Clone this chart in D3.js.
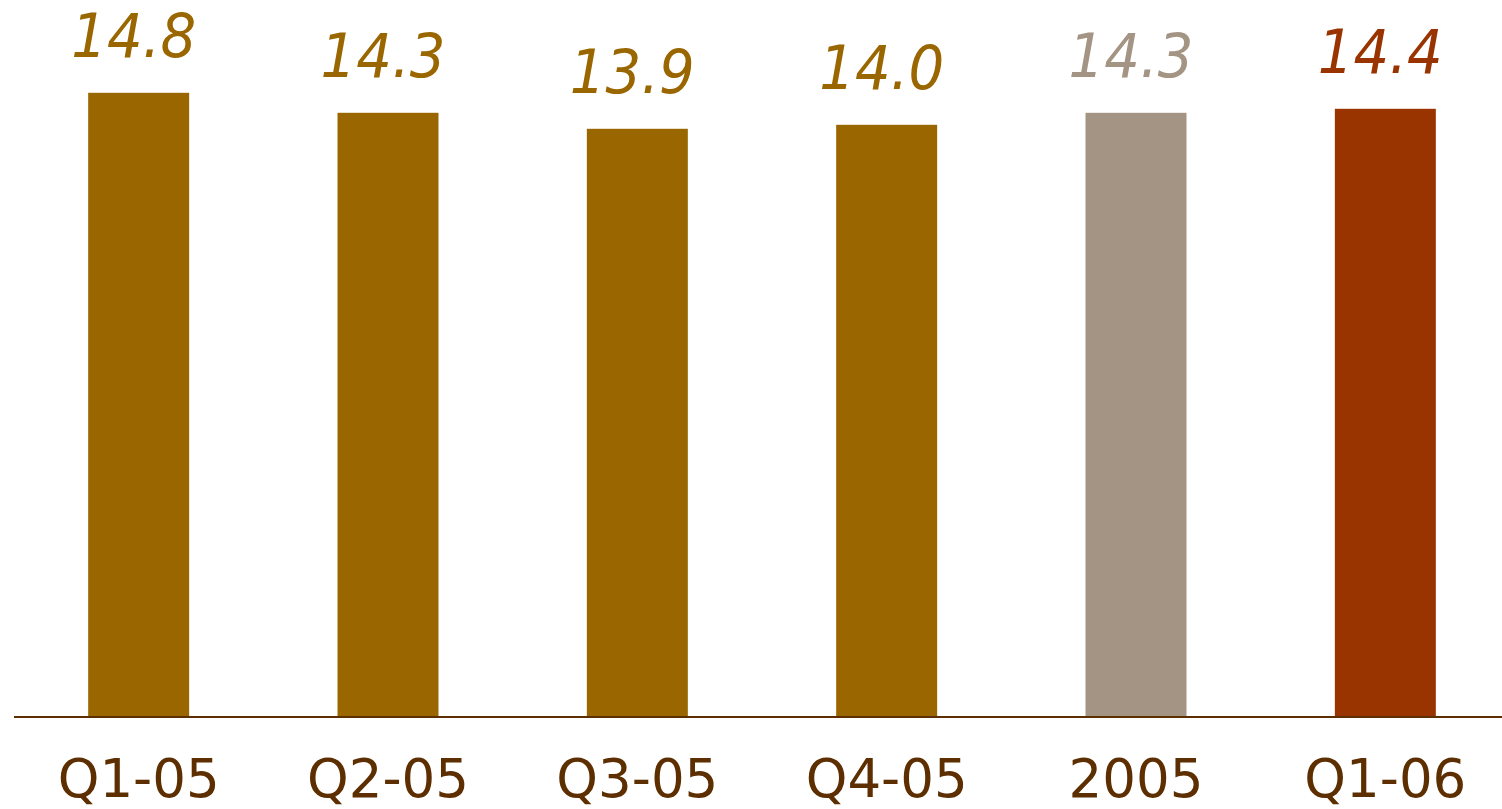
<!DOCTYPE html>
<html>
<head>
<meta charset="utf-8">
<script src="https://cdn.jsdelivr.net/npm/d3@7"></script>
<style>
  html, body { margin: 0; padding: 0; background: #fff; overflow: hidden; }
  svg { display: block; }
</style>
</head>
<body>
<script>
// data
const categories = ["Q1-05", "Q2-05", "Q3-05", "Q4-05", "2005", "Q1-06"];
const values = [14.8, 14.3, 13.9, 14.0, 14.3, 14.4];
const barColors = ["#996600", "#996600", "#996600", "#996600", "#A39483", "#993300"];

// sizes
const width = 1502;
const height = 809;
const baseline = 716;

const data = categories.map((c, i) => ({ cat: c, value: values[i], color: barColors[i] }));

// scales
const xScale = d3.scaleBand(categories, [14, 1510])
  .paddingInner(0.595)
  .paddingOuter(0.2975);

const yScale = d3.scaleLinear([-0.78, 15], [baseline, baseline - 15.78 * 40]);

const svg = d3.select("body")
  .append("svg")
  .attr("width", width)
  .attr("height", height);

// bars
svg.selectAll("rect.bar")
  .data(data)
  .enter()
  .append("rect")
  .attr("class", "bar")
  .attr("x", d => xScale(d.cat))
  .attr("y", d => yScale(d.value))
  .attr("width", xScale.bandwidth())
  .attr("height", d => baseline - yScale(d.value))
  .attr("fill", d => d.color);

// value labels (tall italic, slightly condensed)
svg.selectAll("text.val")
  .data(data)
  .enter()
  .append("text")
  .attr("class", "val")
  .attr("x", d => xScale(d.cat) + xScale.bandwidth() / 2 - 5)
  .attr("y", d => yScale(d.value) - 36)
  .attr("text-anchor", "middle")
  .attr("font-family", "DejaVu Sans, Verdana, sans-serif")
  .attr("font-style", "italic")
  .attr("font-size", 60)
  .attr("textLength", 125)
  .attr("lengthAdjust", "spacingAndGlyphs")
  .attr("fill", d => d.color)
  .text(d => d.value.toFixed(1));

// x axis
const xAxis = d3.axisBottom(xScale).tickSize(0).tickPadding(0);
const gx = svg.append("g")
  .attr("transform", `translate(0, ${baseline + 1})`)
  .call(xAxis);

gx.select(".domain")
  .attr("d", "M14,0H1502")
  .attr("stroke", "#5C2E00")
  .attr("stroke-width", 2);

gx.selectAll(".tick text")
  .attr("y", 0)
  .attr("dy", 80)
  .attr("font-family", "DejaVu Sans, Verdana, sans-serif")
  .attr("font-size", 53)
  .attr("fill", "#5C2E00");
</script>
</body>
</html>
